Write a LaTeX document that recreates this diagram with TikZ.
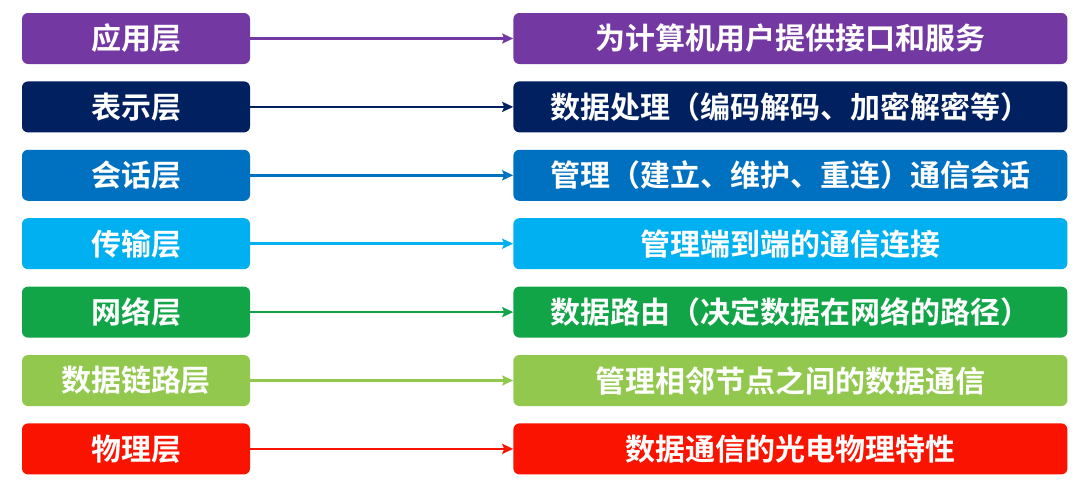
\documentclass[tikz,border=0pt]{standalone}
\usepackage{fontspec}
\newfontfamily\cjk{Noto Sans CJK SC}[BoldFont={Noto Sans CJK SC Bold}]
\usetikzlibrary{positioning,chains,arrows.meta}

\definecolor{appl}{HTML}{7438A3}
\definecolor{pres}{HTML}{002060}
\definecolor{sess}{HTML}{0070C0}
\definecolor{tran}{HTML}{00B0F0}
\definecolor{netw}{HTML}{12A548}
\definecolor{link}{HTML}{92C84E}
\definecolor{phys}{HTML}{FA1400}

\begin{document}
\begin{tikzpicture}[x=1pt,y=1pt,
    layer/.style={rectangle, rounded corners=6pt, minimum width=228pt,
      minimum height=51pt, inner sep=0pt, text=white,
      font=\cjk\bfseries\fontsize{30}{32}\selectfont},
    duty/.style={layer, minimum width=554pt},
    >={Stealth[length=11pt,width=10pt,inset=2pt]},
    start chain=going below, node distance=17pt]
    \useasboundingbox (0,0) rectangle (1080,-482);
    \node[layer,fill=appl,on chain,at={(136,-38.5)}] (L7) {应用层};
    \node[layer,fill=pres,on chain] (L6) {表示层};
    \node[layer,fill=sess,on chain] (L5) {会话层};
    \node[layer,fill=tran,on chain] (L4) {传输层};
    \node[layer,fill=netw,on chain] (L3) {网络层};
    \node[layer,fill=link,on chain] (L2) {数据链路层};
    \node[layer,fill=phys,on chain] (L1) {物理层};
    \node[duty,fill=appl,right=263pt of L7] (D7) {为计算机用户提供接口和服务};
    \node[duty,fill=pres,right=263pt of L6] (D6) {数据处理（编码解码、加密解密等）};
    \node[duty,fill=sess,right=263pt of L5] (D5) {管理（建立、维护、重连）通信会话};
    \node[duty,fill=tran,right=263pt of L4] (D4) {管理端到端的通信连接};
    \node[duty,fill=netw,right=263pt of L3] (D3) {数据路由（决定数据在网络的路径）};
    \node[duty,fill=link,right=263pt of L2] (D2) {管理相邻节点之间的数据通信};
    \node[duty,fill=phys,right=263pt of L1] (D1) {数据通信的光电物理特性};
    \draw[->,appl,line width=2.5pt] (L7) -- (D7);
    \draw[->,pres,line width=2.5pt] (L6) -- (D6);
    \draw[->,sess,line width=2.5pt] (L5) -- (D5);
    \draw[->,tran,line width=2.5pt] (L4) -- (D4);
    \draw[->,netw,line width=2.5pt] (L3) -- (D3);
    \draw[->,link,line width=2.5pt] (L2) -- (D2);
    \draw[->,phys,line width=2.5pt] (L1) -- (D1);
\end{tikzpicture}
\end{document}
